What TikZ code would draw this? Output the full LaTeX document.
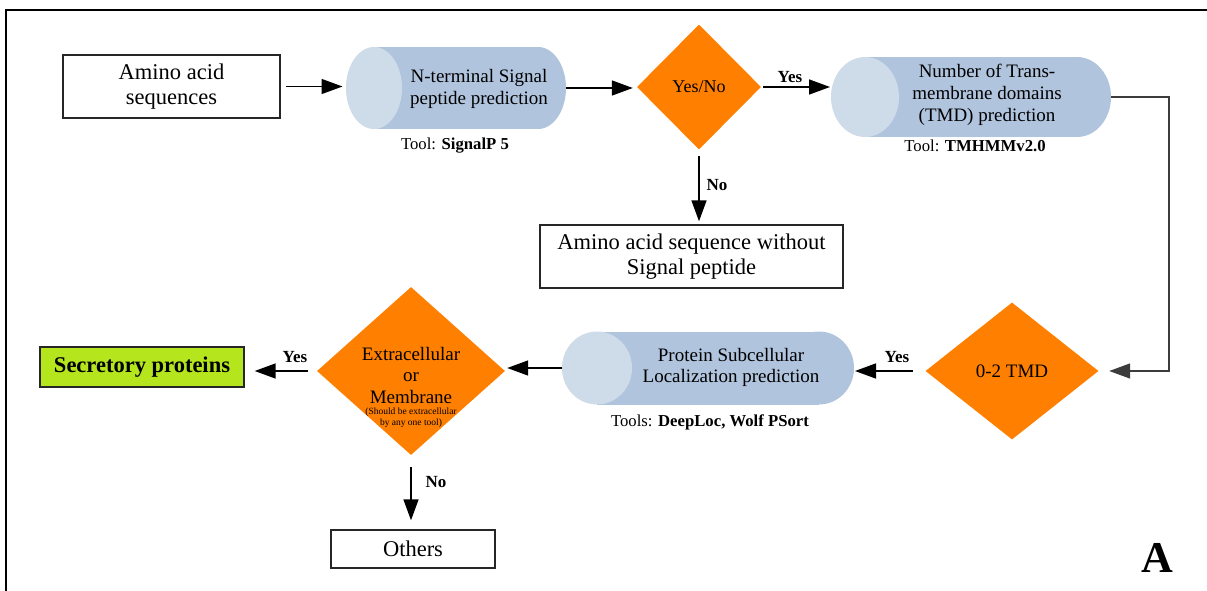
\documentclass[tikz,border=0pt]{standalone}
\usepackage{fontspec}
\setmainfont{Liberation Serif}
\usetikzlibrary{arrows.meta,shapes.geometric,calc}
\definecolor{orng}{RGB}{255,128,0}
\definecolor{cylbodyc}{RGB}{176,196,222}
\definecolor{cylfacec}{RGB}{206,219,232}
\definecolor{greenc}{RGB}{181,230,29}
\definecolor{linec}{RGB}{60,60,60}
\newcommand\fs[2]{\fontsize{#1}{#2}\selectfont}
% #1 node name, #2 end x-radius (pt), #3 end y-radius (pt)
\newcommand\mycyl[3]{%
  \fill[cylbodyc] ([xshift=#2pt]#1.north west) rectangle ([xshift=-#2pt]#1.south east);
  \fill[cylbodyc] ([xshift=-#2pt]#1.east) ellipse [x radius=#2pt, y radius=#3pt];
  \fill[cylfacec] ([xshift=#2pt]#1.west) ellipse [x radius=#2pt, y radius=#3pt];
}
\tikzset{
  box/.style={draw=black!85, line width=1.4pt, fill=white, inner sep=0pt, align=center, font=\fs{22.5}{25}},
  dia/.style={diamond, fill=orng, inner sep=0pt, aspect=1},
  cylnode/.style={inner sep=0pt, outer sep=0pt},
  ctext/.style={align=center, font=\fs{19}{22}, inner sep=0pt},
  tool/.style={font=\fs{16.7}{20}, inner sep=0pt},
  lab/.style={font=\fs{17}{20}\bfseries, inner sep=0pt},
  arr/.style={draw=black, line width=1.5pt, -{Triangle[length=21pt,width=15pt]}},
}
\begin{document}
\begin{tikzpicture}[x=1pt,y=-1pt]
\useasboundingbox (0,0) rectangle (1207,591);
% frame
\draw[line width=1.5pt, black] (6,600) -- (6,10) -- (1215,10);

% top row
\node[box, minimum width=217, minimum height=63] (src) at (171.5,86.5) {Amino acid\\sequences};

\node[cylnode, minimum width=220, minimum height=82] (c1) at (456,88) {};
\mycyl{c1}{28}{41}
\node[ctext] (c1t) at (479,88.5) {N-terminal Signal\\peptide prediction};
\node[tool] (t1) at (455,146) {Tool: \textbf{SignalP 5}};

\node[dia, minimum width=124, minimum height=125, font=\fs{18}{20}] (d1) at (699,87) {Yes/No};

\node[cylnode, minimum width=280, minimum height=80] (c2) at (971,97) {};
\mycyl{c2}{34}{40}
\node[ctext] (c2t) at (987,95) {Number of Trans-\\membrane domains\\(TMD) prediction};
\node[tool] (t2) at (975,146) {Tool: \textbf{TMHMMv2.0}};

\node[box, minimum width=303, minimum height=63] (nb) at (691.5,256.5) {Amino acid sequence without\\Signal peptide};

% bottom row
\node[dia, minimum width=173, minimum height=137, font=\fs{19}{21}] (d2) at (1012,371) {0-2 TMD};

\node[cylnode, minimum width=292, minimum height=73] (c3) at (708,368) {};
\mycyl{c3}{35}{36.5}
\node[ctext, font=\fs{19}{21}] (c3t) at (731,367.5) {Protein Subcellular\\Localization prediction};
\node[tool] (t3) at (710,422) {Tools: \textbf{DeepLoc, Wolf PSort}};

\node[dia, minimum width=188, minimum height=168] (d3) at (411,371) {};
\node[ctext, font=\fs{19}{21.5}] (d3t) at (411,375) {Extracellular\\or\\Membrane};
\node[ctext, font=\fs{9.5}{11}] (d3n) at (411,417.5) {(Should be extracellular\\by any one tool)};

\node[box, fill=greenc, minimum width=204, minimum height=40, font=\fs{22.5}{25}\bfseries] (sec) at (142,367) {Secretory proteins};
\node[box, minimum width=164, minimum height=38] (oth) at (413,549) {Others};

\node[font=\fs{44}{48}\bfseries, inner sep=0pt] (lbA) at (1157,558) {A};

% connectors
\draw[arr, shorten <=5.5pt, shorten >=3.5pt] (src.east) -- (src.east -| c1.west);
\draw[arr, shorten >=4pt] (c1.east) -- (c1.east -| d1.west);
\draw[arr, shorten <=2pt, shorten >=1pt] (d1.east) -- (d1.east -| c2.west);
\draw[arr, shorten <=6.5pt, shorten >=3pt] (d1.south) -- (d1.south |- nb.north);
\draw[arr, draw=linec, shorten >=10.5pt] (c2.east) -- ++(58,0) |- (d2.east);
\draw[arr, shorten <=12.5pt, shorten >=1pt] (d2.west) -- (d2.west -| c3.east);
\draw[arr, shorten >=2pt] (c3.west) -- (c3.west -| d3.east);
\draw[arr, shorten <=9pt, shorten >=10pt] (d3.west) -- (d3.west -| sec.east);
\draw[arr, shorten <=12pt, shorten >=9pt] (d3.south) -- (d3.south |- oth.north);

% connector labels
\node[lab] (y1) at (790,77) {Yes};
\node[lab] (n1) at (717,185) {No};
\node[lab] (y2) at (897,357) {Yes};
\node[lab] (y3) at (295,357) {Yes};
\node[lab] (n2) at (436,482) {No};
\end{tikzpicture}
\end{document}
